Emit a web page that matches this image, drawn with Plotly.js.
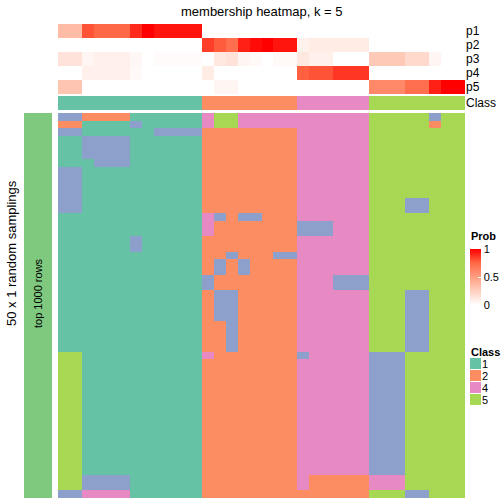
<!DOCTYPE html>
<html><head><meta charset="utf-8">
<script src="https://cdn.plot.ly/plotly-3.0.1.min.js"></script>
<style>html,body{margin:0;padding:0;background:#fff}#chart{width:504px;height:504px}</style>
</head><body><div id="chart"></div>
<script>
// ---- data ----
const probNames = ['p1','p2','p3','p4','p5'];
const p1 = [0.35,0.35,0.8,0.75,0.75,0.75,0.9,1,0.95,0.95,0.95,0.95, 0,0,0,0,0,0,0,0, 0,0,0,0,0,0, 0,0,0,0,0,0,0,0];
const p2 = [0,0,0,0,0,0,0,0,0,0,0,0, 0.85,0.78,0.72,0.92,0.97,1,0.95,0.95, 0.07,0.1,0.1,0.1,0.1,0.1, 0,0,0,0,0,0,0,0];
const p3 = [0.15,0.15,0.05,0.08,0.08,0.08,0.04,0,0.02,0.02,0.02,0.02, 0,0.12,0.15,0.05,0.03,0,0.03,0.03, 0.12,0.08,0.08,0,0,0, 0.28,0.28,0.28,0.2,0.2,0.05,0,0];
const p4 = [0,0,0.08,0.08,0.08,0.08,0.03,0,0,0,0,0, 0.1,0,0,0,0,0,0,0, 0.77,0.8,0.8,0.87,0.87,0.87, 0,0,0,0,0,0,0,0];
const p5 = [0.3,0.3,0,0,0,0,0,0,0,0,0,0, 0,0.05,0.05,0,0,0,0,0, 0,0,0,0,0,0, 0.6,0.6,0.6,0.72,0.72,0.92,1,1];
const columnClass = [1,1,1,1,1,1,1,1,1,1,1,1, 2,2,2,2,2,2,2,2, 4,4,4,4,4,4, 5,5,5,5,5,5,5,5];
// 50 random samplings x 34 samples, class labels per cell
const samplingRows = [
 "332222111111 45544444 444444 55555355",
 "221111311111 45544444 444444 55555255",
 "331111113333 22222222 444444 55555555",
 "113333111111 22222222 444444 55555555",
 "113333111111 22222222 444444 55555555",
 "113333111111 22222222 444444 55555555",
 "111333111111 22222222 444444 55555555",
 "331111111111 22222222 444444 55555555",
 "331111111111 22222222 444444 55555555",
 "331111111111 22222222 444444 55555555",
 "331111111111 22222222 444444 55555555",
 "331111111111 22222222 444444 55533555",
 "331111111111 22222222 444444 55533555",
 "111111111111 43233222 444444 55555555",
 "111111111111 42222222 333444 55555555",
 "111111111111 42222222 333444 55555555",
 "111111311111 22222222 444444 55555555",
 "111111311111 22222222 444444 55555555",
 "111111111111 22322233 444444 55555555",
 "111111111111 23232222 444444 55555555",
 "111111111111 23232222 444444 55555555",
 "111111111111 32222222 444333 55555555",
 "111111111111 32222222 444333 55555555",
 "111111111111 23322222 444444 55533555",
 "111111111111 23322222 444444 55533555",
 "111111111111 23322222 444444 55533555",
 "111111111111 23322222 444444 55533555",
 "111111111111 22322222 444444 55533555",
 "111111111111 22322222 444444 55533555",
 "111111111111 22322222 444444 55533555",
 "111111111111 22322222 444444 55533555",
 "551111111111 42222222 344444 33355555",
 "551111111111 22222222 444444 33355555",
 "551111111111 22222222 444444 33355555",
 "551111111111 22222222 444444 33355555",
 "551111111111 22222222 444444 33355555",
 "551111111111 22222222 444444 33355555",
 "551111111111 22222222 444444 33355555",
 "551111111111 22222222 444444 33355555",
 "551111111111 22222222 444444 33355555",
 "551111111111 22222222 444444 33355555",
 "551111111111 22222222 444444 33355555",
 "551111111111 22222222 444444 33355555",
 "551111111111 22222222 444444 33355555",
 "551111111111 22222222 444444 33355555",
 "551111111111 22222222 444444 33355555",
 "551111111111 22222222 444444 33355555",
 "553333111111 22222222 422222 44455555",
 "553333111111 22222222 422222 44455555",
 "334444111111 22222222 222222 55533555"
];
const legendClasses = ['1','2','4','5'];
const classPalette = ['#66C2A5','#FC8D62','#8DA0CB','#E78AC3','#A6D854']; // classes 1..5
const stripColor = '#7FC97F';

// ---- build ----
const PX = v => v/504, PY = v => 1 - v/504;
const cols = columnClass.map((_, i) => i);
const mainZ = samplingRows.map(r => r.replace(/ /g,'').split('').map(Number));
const rowIdx = mainZ.map((_, i) => i);
const classScale = [];
classPalette.forEach((c, i) => {
  const lo = Math.max(0, (i - 0.5) / 4), hi = Math.min(1, (i + 0.5) / 4);
  classScale.push([lo, c], [hi, c]);
});
const probScale = [[0,'#FFFFFF'],[0.25,'rgb(255,207,191)'],[0.5,'rgb(255,158,129)'],[0.75,'rgb(255,104,70)'],[1,'rgb(255,0,0)']];
const font = 'Liberation Sans, Arial, sans-serif';

const traces = [
  { type:'heatmap', x: cols, y: probNames, z: [p1,p2,p3,p4,p5], xaxis:'x', yaxis:'y2',
    zmin:0, zmax:1, colorscale: probScale, hoverinfo:'skip',
    colorbar: { x: PX(470), xanchor:'left', y: PY(305), yanchor:'bottom', len: 56, lenmode:'pixels',
      thickness: 11, thicknessmode:'pixels', outlinewidth: 0, xpad: 0, ypad: 0,
      tickvals:[0,0.5,1], ticktext:['0','0.5','1'], ticks:'inside', ticklen:3, tickcolor:'#FFFFFF',
      tickfont:{size:11, family:font, color:'#000'} } },
  { type:'heatmap', x: cols, y: ['Class'], z: [columnClass], xaxis:'x', yaxis:'y3',
    zmin:1, zmax:5, colorscale: classScale, showscale:false, hoverinfo:'skip' },
  { type:'heatmap', x: cols, y: rowIdx, z: mainZ, xaxis:'x', yaxis:'y',
    zmin:1, zmax:5, colorscale: classScale, showscale:false, hoverinfo:'skip' },
  { type:'heatmap', x: [0], y: rowIdx, z: mainZ.map(() => [1]), xaxis:'x2', yaxis:'y',
    zmin:0, zmax:1, colorscale: [[0,stripColor],[1,stripColor]], showscale:false, hoverinfo:'skip' },
  { type:'heatmap', x: [0], y: legendClasses, z: legendClasses.map(c => [Number(c)]), xaxis:'x3', yaxis:'y4',
    zmin:1, zmax:5, colorscale: classScale, showscale:false, hoverinfo:'skip', ygap: 1 }
];

const hidden = { showgrid:false, zeroline:false, showticklabels:false, ticks:'', showline:false };
const catAxis = (vals, size) => ({ side:'right', type:'category', tickmode:'array', tickvals: vals, ticktext: vals,
  showgrid:false, zeroline:false, ticks:'', showline:false, tickfont:{size:size, family:font, color:'#000'} });
const layout = {
  width: 504, height: 504, margin:{l:0,r:0,t:0,b:0}, paper_bgcolor:'#fff', plot_bgcolor:'#fff',
  font:{family:font, color:'#000'}, showlegend:false,
  xaxis: Object.assign({domain:[PX(58), PX(465)], anchor:'y'}, hidden),
  yaxis: Object.assign({domain:[PY(498), PY(113)], anchor:'x', autorange:'reversed'}, hidden),
  yaxis2: Object.assign({ domain:[PY(94), PY(24)], anchor:'x', autorange:'reversed' }, catAxis(probNames, 12)),
  yaxis3: Object.assign({ domain:[PY(110), PY(96)], anchor:'x' }, catAxis(['Class'], 12)),
  xaxis2: Object.assign({domain:[PX(24), PX(52)], anchor:'y'}, hidden),
  xaxis3: Object.assign({domain:[PX(470), PX(481)], anchor:'y4'}, hidden),
  yaxis4: Object.assign({ domain:[PY(406), PY(358)], anchor:'x3', autorange:'reversed' }, catAxis(legendClasses, 11)),
  annotations: [
    { text:'membership heatmap, k = 5', x: PX(261.5), y: PY(11), xref:'paper', yref:'paper',
      xanchor:'center', yanchor:'middle', showarrow:false, font:{size:13, family:font, color:'#000'} },
    { text:'50 x 1 random samplings', x: PX(11), y: PY(253), xref:'paper', yref:'paper', textangle:-90,
      xanchor:'center', yanchor:'middle', showarrow:false, font:{size:13, family:font, color:'#000'} },
    { text:'top 1000 rows', x: PX(38), y: PY(293), xref:'paper', yref:'paper', textangle:-90,
      xanchor:'center', yanchor:'middle', showarrow:false, font:{size:11, family:font, color:'#000'} },
    { text:'<b>Prob</b>', x: PX(469), y: PY(236), xref:'paper', yref:'paper',
      xanchor:'left', yanchor:'middle', showarrow:false, font:{size:11, family:font, color:'#000'} },
    { text:'<b>Class</b>', x: PX(469), y: PY(352), xref:'paper', yref:'paper',
      xanchor:'left', yanchor:'middle', showarrow:false, font:{size:11, family:font, color:'#000'} }
  ]
};
Plotly.newPlot('chart', traces, layout, {staticPlot:true, displayModeBar:false});
</script></body></html>
